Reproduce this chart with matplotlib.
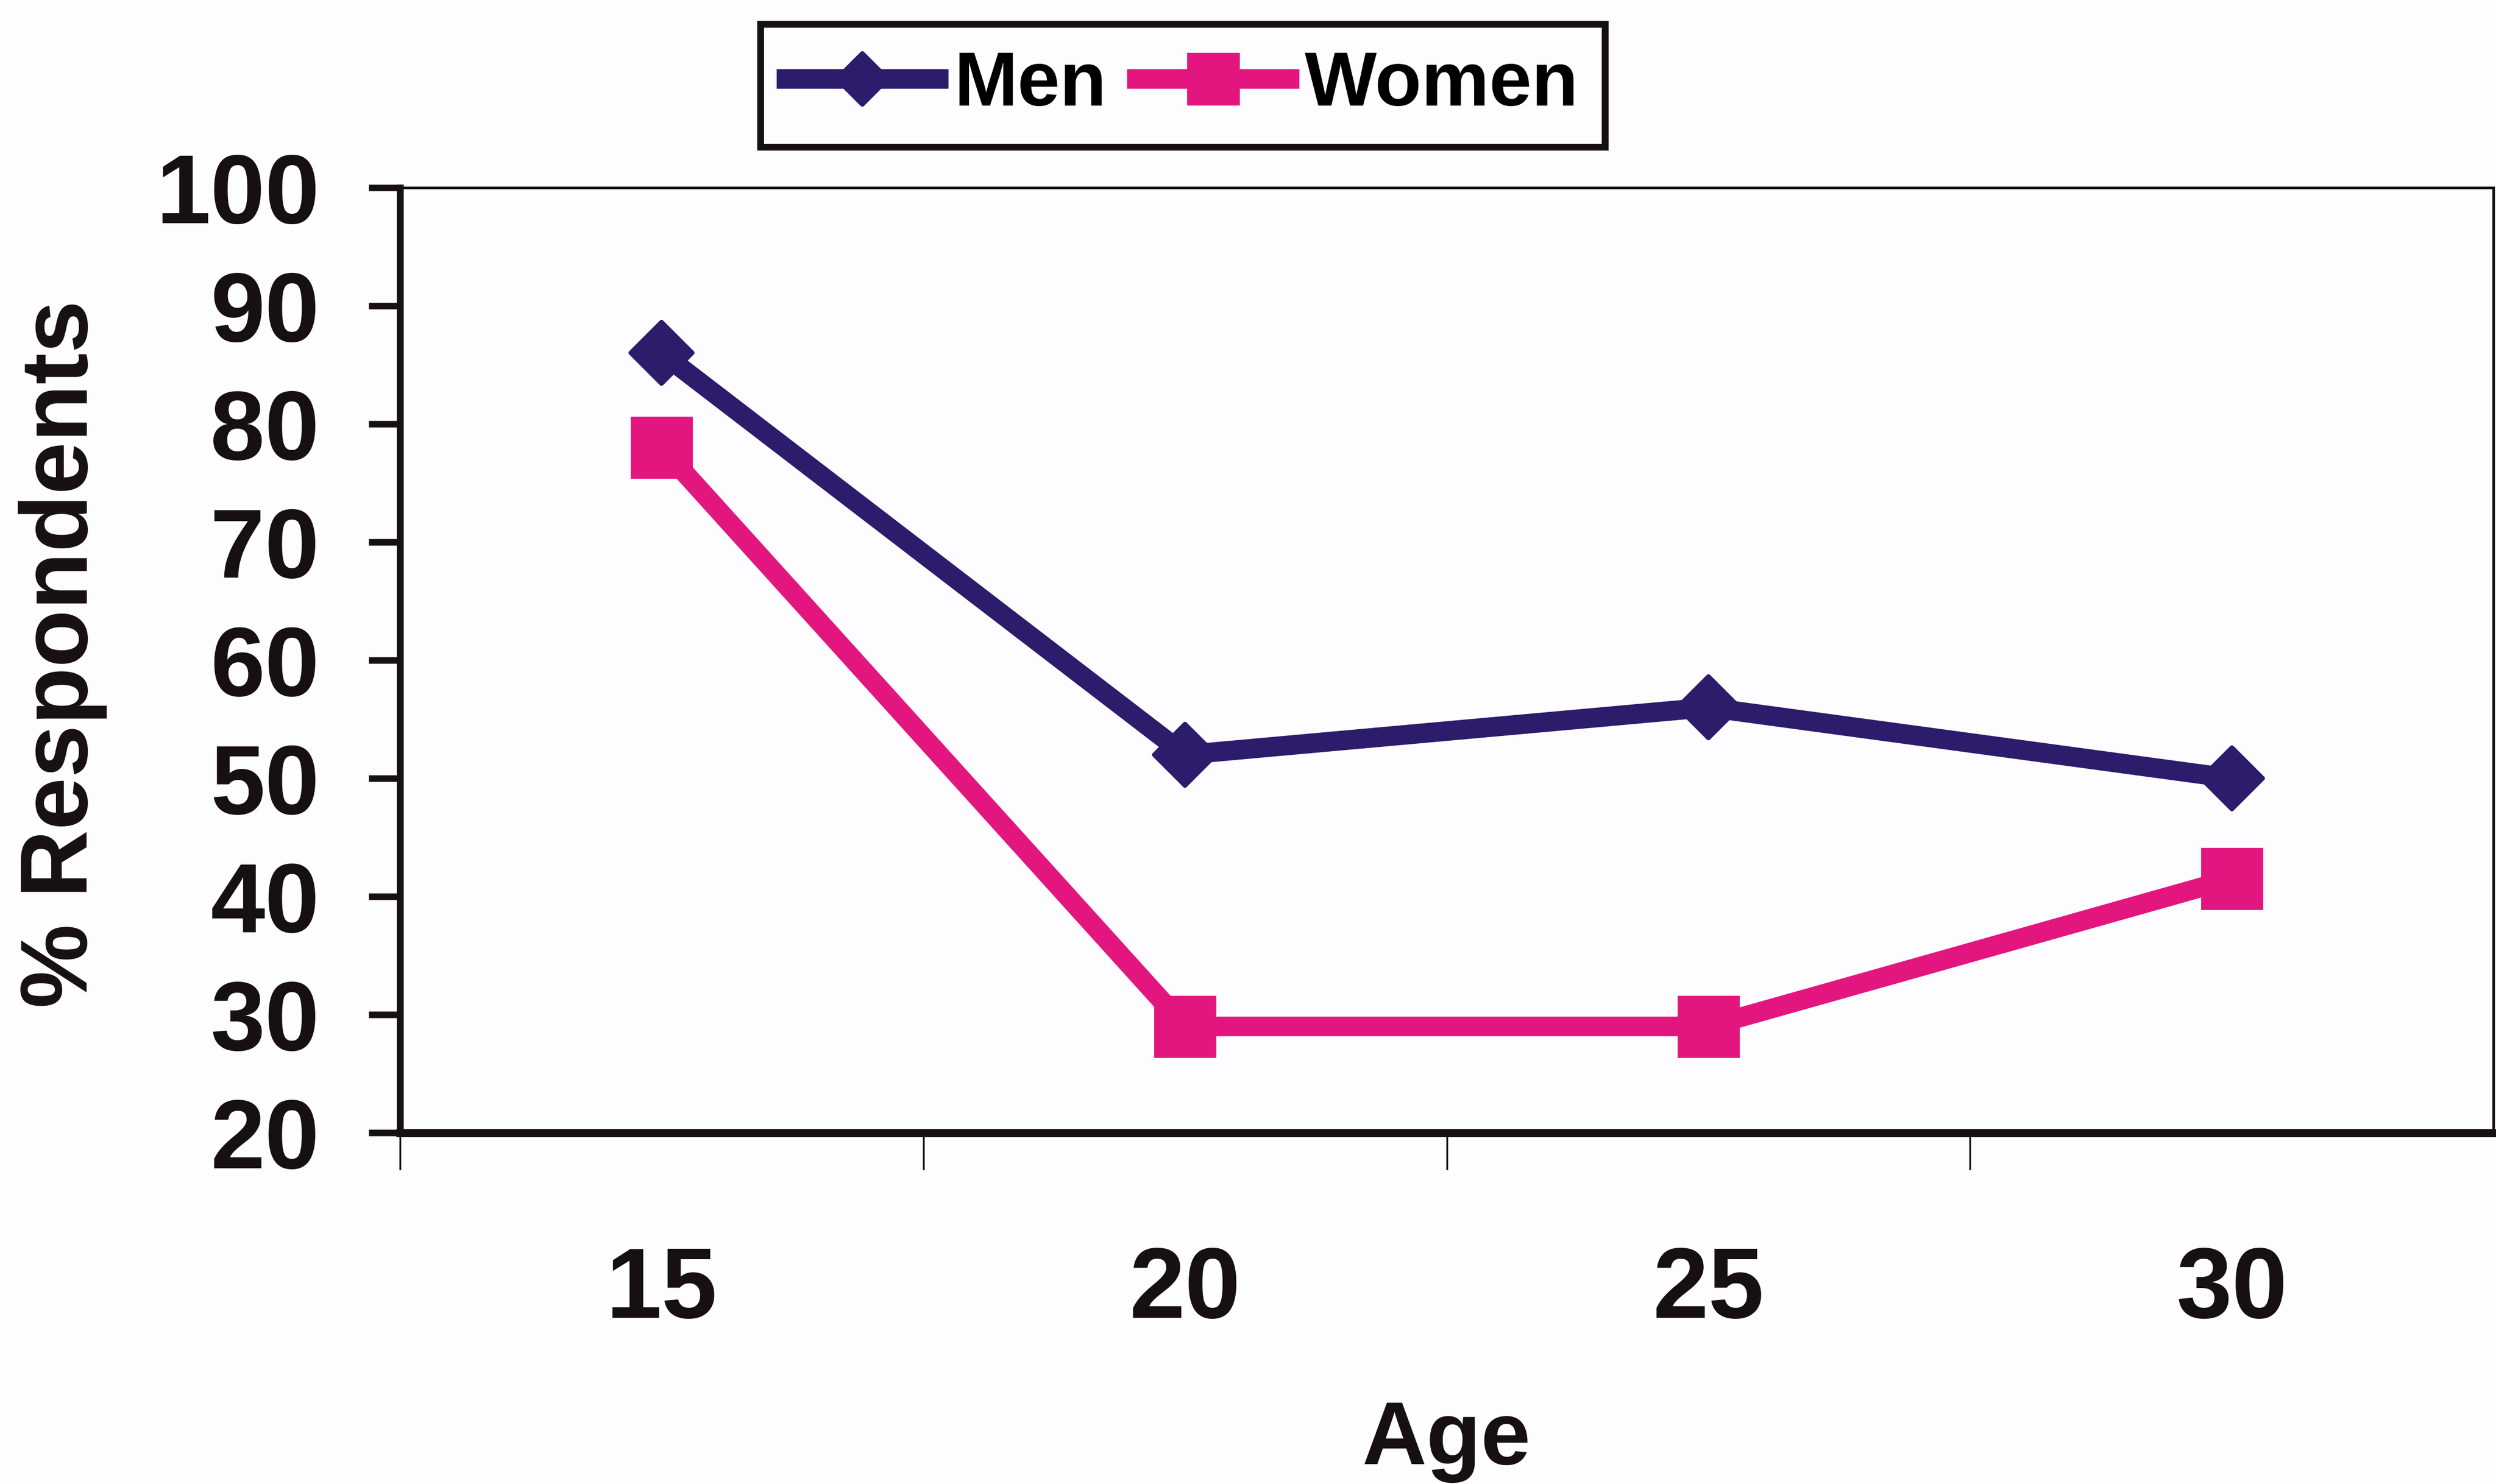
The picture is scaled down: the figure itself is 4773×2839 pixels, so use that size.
import matplotlib
matplotlib.use("Agg")
import matplotlib.pyplot as plt
from matplotlib.markers import MarkerStyle

# ── Data ────────────────────────────────────────────────────
AGES = ["15", "20", "25", "30"]
MEN = [86, 52, 56, 50]
WOMEN = [78, 29, 29, 41.5]
Y_TICKS = [20, 30, 40, 50, 60, 70, 80, 90, 100]

COLORS = {
    "men": "#2d1b6b",
    "women": "#e3167f",
    "ink": "#171012",
    "bg": "#fdfdff",
}

plt.rcParams.update({
    "font.family": ["Liberation Sans", "DejaVu Sans"],
    "font.weight": "bold",
})

W, H = 4773, 2839
fig = plt.figure(figsize=(W / 100, H / 100), dpi=100, facecolor=COLORS["bg"])

# plot area in pixels: x 765..4768, y 359..2167
left, right, top, bottom = 765, 4768, 359, 2167
ax = fig.add_axes([left / W, 1 - bottom / H, (right - left) / W, (bottom - top) / H])
ax.set_facecolor("none")

x = list(range(len(AGES)))

ax.plot(
    x, MEN, color=COLORS["men"], linewidth=27, solid_joinstyle="round",
    marker=MarkerStyle("D", joinstyle="round"), markersize=60,
    markeredgewidth=6, markeredgecolor=COLORS["men"], label="Men", zorder=3,
)
ax.plot(
    x, WOMEN, color=COLORS["women"], linewidth=27, solid_joinstyle="miter",
    marker="s", markersize=84, markeredgewidth=2,
    markeredgecolor=COLORS["women"], label="Women", zorder=3,
)

# axes limits / ticks
ax.set_xlim(-0.5, len(AGES) - 0.5)
ax.set_ylim(Y_TICKS[0], Y_TICKS[-1])
ax.set_yticks(Y_TICKS)
ax.set_xticks(x)
ax.set_xticklabels(AGES)
ax.set_xticks([i - 0.5 for i in x], minor=True)

ax.tick_params(axis="y", which="major", direction="out", length=43, width=9,
               pad=68, labelsize=135, colors=COLORS["ink"])
ax.tick_params(axis="x", which="major", length=0, pad=155, labelsize=138,
               colors=COLORS["ink"])
ax.tick_params(axis="x", which="minor", direction="out", length=51, width=2.5,
               colors=COLORS["ink"])

for side, lw in [("left", 9.4), ("bottom", 11), ("top", 3.5), ("right", 3.5)]:
    ax.spines[side].set_linewidth(lw)
    ax.spines[side].set_color(COLORS["ink"])

ax.set_xlabel("Age", fontsize=123, fontweight="bold", color=COLORS["ink"], va="top")
ax.xaxis.set_label_coords(0.5, (bottom - 2678) / (bottom - top))
ax.set_ylabel("% Respondents", fontsize=130, fontweight="bold", color=COLORS["ink"])
ax.yaxis.set_label_coords((205 - left) / (right - left), (bottom - 1251) / (bottom - top))

leg = fig.legend(
    loc="upper left", bbox_to_anchor=(1454 / W, 1 - 46 / H), ncol=2,
    prop={"size": 105, "weight": "bold"}, frameon=True, fancybox=False,
    borderaxespad=0, borderpad=0.34, handlelength=2.0, handletextpad=0.2,
    columnspacing=0.4, markerscale=0.84,
)
frame = leg.get_frame()
frame.set_edgecolor(COLORS["ink"])
frame.set_linewidth(9.4)
frame.set_facecolor(COLORS["bg"])
frame.set_alpha(1)

fig.savefig("out.png", dpi=100, facecolor=COLORS["bg"])
